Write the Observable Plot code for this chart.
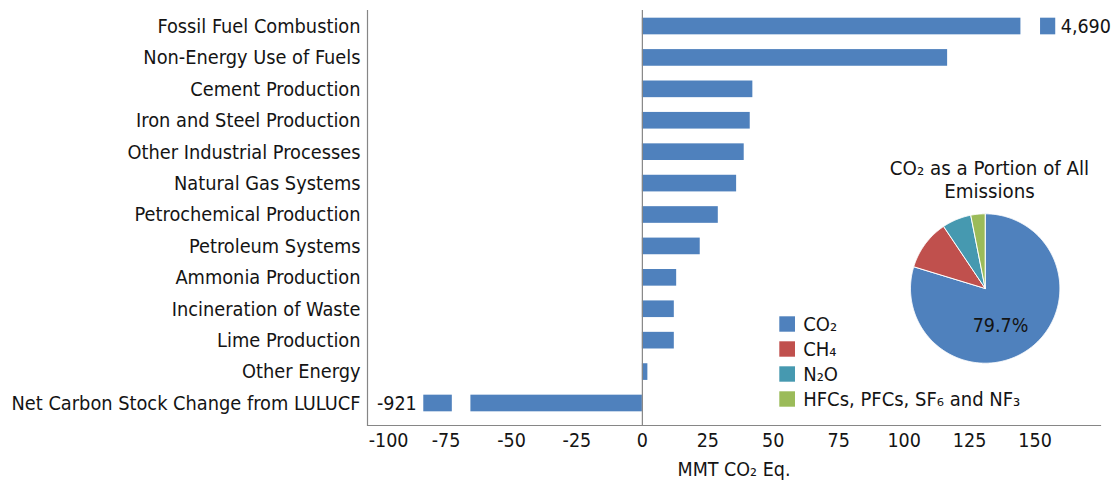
<!DOCTYPE html>
<html><head><meta charset="utf-8">
<script src="https://cdn.jsdelivr.net/npm/d3@7"></script>
<script src="https://cdn.jsdelivr.net/npm/@observablehq/plot@0.6"></script>
<style>
body{margin:0;background:#fff;}
#wrap{position:relative;width:1116px;height:483px;}
#wrap svg{font-family:"DejaVu Sans Condensed","DejaVu Sans",sans-serif;font-stretch:condensed;}
#pie{position:absolute;left:760px;top:140px;}
</style></head><body><div id="wrap"><div id="main"></div><div id="pie"></div></div>
<script>
// ---- data ----
const categories = [
  "Fossil Fuel Combustion","Non-Energy Use of Fuels","Cement Production",
  "Iron and Steel Production","Other Industrial Processes","Natural Gas Systems",
  "Petrochemical Production","Petroleum Systems","Ammonia Production",
  "Incineration of Waste","Lime Production","Other Energy",
  "Net Carbon Stock Change from LULUCF"
];
const values = [4690, 116.6, 42.2, 41.2, 38.9, 36.0, 29.0, 22.1, 13.1, 12.2, 12.2, 2.1, -921];
const xTicks = [-100, -75, -50, -25, 0, 25, 50, 75, 100, 125, 150];
const xLabel = "MMT CO₂ Eq.";
const gases = ["CO₂", "CH₄", "N₂O", "HFCs, PFCs, SF₆ and NF₃"];
const gasShares = [79.7, 10.9, 6.3, 3.1];
const gasColors = ["#4F81BD", "#C0504D", "#4699B0", "#9BBB59"];
const pieTitle = "CO₂ as a Portion of All\nEmissions";

// ---- layout / display settings ----
const xDomain = [-105, 175];
const posBreak = {barEnd: 144.6, stub: [152.1, 157.9]};
const negBreak = {barEnd: -65.5, stub: [-72.6, -83.5]};
const barColor = "#4F81BD";
const axisColor = "#868686";
const textColor = "#141414";
const font = '"DejaVu Sans Condensed","DejaVu Sans",sans-serif';
const fmt = v => d3.format(",")(v).replace("−", "-");

const segs = [], labelsPos = [], labelsNeg = [];
categories.forEach((c, i) => {
  const v = values[i];
  if (v > xDomain[1]) {
    segs.push({category: c, x1: 0, x2: posBreak.barEnd});
    segs.push({category: c, x1: posBreak.stub[0], x2: posBreak.stub[1]});
    labelsPos.push({category: c, x: posBreak.stub[1], text: fmt(v)});
  } else if (v < xDomain[0]) {
    segs.push({category: c, x1: 0, x2: negBreak.barEnd});
    segs.push({category: c, x1: negBreak.stub[0], x2: negBreak.stub[1]});
    labelsNeg.push({category: c, x: negBreak.stub[1], text: fmt(v)});
  } else {
    segs.push({category: c, x1: 0, x2: v});
  }
});

const chart = Plot.plot({
  width: 1116, height: 483,
  marginLeft: 367, marginRight: 16, marginTop: 10, marginBottom: 58,
  style: {fontFamily: font, fontSize: "19px", color: textColor, background: "white"},
  x: {domain: xDomain},
  y: {domain: categories, range: [10.3, 418.7], paddingInner: 0.47, paddingOuter: 0.235, round: false},
  marks: [
    Plot.barX(segs, {x1: "x1", x2: "x2", y: "category", fill: barColor}),
    Plot.ruleX([0], {stroke: axisColor, strokeWidth: 1.2}),
    Plot.ruleX([xDomain[0]], {stroke: axisColor, strokeWidth: 1.2}),
    Plot.frame({anchor: "bottom", stroke: axisColor, strokeWidth: 1.2}),
    Plot.axisX({ticks: xTicks.slice(1), tickSize: 0, tickPadding: 8, tickFormat: d => String(d), label: null, fontSize: 19.5, fill: textColor}),
    Plot.axisX({ticks: xTicks.slice(0, 1), tickSize: 0, tickPadding: 8, dx: 8, tickFormat: d => String(d), label: null, fontSize: 19.5, fill: textColor}),
    Plot.axisY({tickSize: 0, tickPadding: 7, label: null, fontSize: 19.8, fill: textColor}),
    Plot.text([xLabel], {frameAnchor: "bottom", dy: 44, lineAnchor: "middle", fontSize: 19.5, fill: textColor}),
    Plot.text(labelsPos, {x: "x", y: "category", text: "text", textAnchor: "start", dx: 5, fontSize: 19.5, fill: textColor}),
    Plot.text(labelsNeg, {x: "x", y: "category", text: "text", textAnchor: "end", dx: -7, fontSize: 19.5, fill: textColor})
  ]
});
document.getElementById("main").appendChild(chart);

// ---- pie inset ----
const pieW = 356, pieH = 280;
const cx = 224.7, cy = 148, R = 74.7;
const gasData = gases.map((g, i) => ({key: g, share: gasShares[i]}));
const arcs = d3.pie().sort(null).value(d => d.share)(gasData);
const piePts = arcs.flatMap(a => {
  const key = a.data.key;
  const pts = [{key, x: cx, y: cy}];
  const n = Math.max(2, Math.ceil((a.endAngle - a.startAngle) / 0.01));
  for (let k = 0; k <= n; k++) {
    const ang = a.startAngle + (a.endAngle - a.startAngle) * k / n;
    pts.push({key, x: cx + R * Math.sin(ang), y: cy - R * Math.cos(ang)});
  }
  pts.push({key, x: cx, y: cy});
  return pts;
});

const pie = Plot.plot({
  width: pieW, height: pieH,
  marginLeft: 0, marginRight: 0, marginTop: 0, marginBottom: 0,
  style: {fontFamily: font, fontSize: "19px", color: textColor, background: "transparent", overflow: "visible"},
  x: {domain: [0, pieW], range: [0, pieW], axis: null},
  y: {domain: [0, pieH], range: [0, pieH], axis: null},
  color: {domain: gases, range: gasColors},
  marks: [
    Plot.line(piePts, {x: "x", y: "y", z: "key", fill: "key", stroke: "white", strokeWidth: 1, curve: "linear"}),
    Plot.text([gasData[0]], {x: () => 240, y: () => 185, text: d => d.share.toFixed(1) + "%", fontSize: 19.5, fill: textColor}),
    Plot.text([pieTitle], {x: () => 229, y: () => 38.3, fontSize: 20.3, lineHeight: 1.17, fill: textColor}),
    Plot.rect(gasData, {x1: () => 19.3, x2: () => 35, y1: (d, i) => 176.3 + i * 25, y2: (d, i) => 191.7 + i * 25, fill: "key"}),
    Plot.text(gasData, {x: () => 42.7, y: (d, i) => 184 + i * 25, text: "key", textAnchor: "start", lineAnchor: "middle", fontSize: 20, fill: textColor})
  ]
});
document.getElementById("pie").appendChild(pie);
</script>
</body></html>
